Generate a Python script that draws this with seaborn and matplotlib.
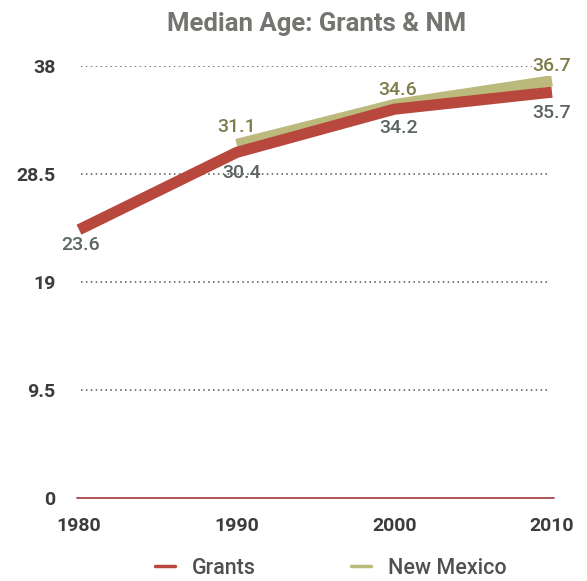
import matplotlib
matplotlib.use("Agg")
import matplotlib.pyplot as plt
import seaborn as sns
import pandas as pd
import numpy as np
from matplotlib.lines import Line2D

years = [1980, 1990, 2000, 2010]
grants = [23.6, 30.4, 34.2, 35.7]
new_mexico = [np.nan, 31.1, 34.6, 36.7]
y_ticks = [0, 9.5, 19, 28.5, 38]
y_tick_labels = ["0", "9.5", "19", "28.5", "38"]
x_tick_labels = ["1980", "1990", "2000", "2010"]
series_names = ["Grants", "New Mexico"]

sns.set_theme(style="white")
plt.rcParams["font.family"] = ["Roboto", "DejaVu Sans"]

df = pd.DataFrame({
    "year": years * 2,
    "age": grants + new_mexico,
    "series": [series_names[0]] * 4 + [series_names[1]] * 4,
})

grants_color = "#b8473d"
nm_color = "#bcb97c"

fig = plt.figure(figsize=(5.87, 5.81), dpi=100)
ax = fig.add_axes([79 / 587, (581 - 498) / 581, 473 / 587, 432 / 581])

sns.lineplot(data=df[df.series == series_names[1]], x="year", y="age", color=nm_color,
             lw=8, ax=ax, legend=False, solid_capstyle="butt", zorder=3)
sns.lineplot(data=df[df.series == series_names[0]], x="year", y="age", color=grants_color,
             lw=8, ax=ax, legend=False, solid_capstyle="butt", zorder=4)
for ln in ax.lines:
    ln.set_clip_on(False)

ax.set_xlim(1980, 2010)
ax.set_ylim(0, 38)
ax.set_yticks(y_ticks)
ax.set_yticklabels(y_tick_labels)
ax.set_xticks(years)
ax.set_xticklabels(x_tick_labels)
ax.tick_params(axis="y", length=0, pad=17, labelsize=14, labelcolor="#3c3c3c")
ax.tick_params(axis="x", length=0, pad=14, labelsize=14, labelcolor="#3c3c3c")
for t in ax.get_xticklabels() + ax.get_yticklabels():
    t.set_fontweight("bold")
ax.set_xlabel("")
ax.set_ylabel("")
for s in ax.spines.values():
    s.set_visible(False)

for yv in y_ticks[1:]:
    ax.axhline(yv, xmin=0.005, xmax=0.995, color="#555555", lw=1.1, ls=(0, (1, 2.2)), zorder=0)
ax.axhline(0, xmin=-0.004, xmax=1.004, color="#a8474a", lw=1.3, clip_on=False, zorder=1)

# value labels
nm_lab_color = "#7d7c48"
gr_lab_color = "#5c6463"
offsets_nm = [None, (0, 17), (3, 15), (0, 15)]
offsets_gr = [(2, -15), (5, -21), (4, -19), (0, -21)]
for i, (x, g, n) in enumerate(zip(years, grants, new_mexico)):
    if not np.isnan(n):
        bbox = dict(facecolor="white", edgecolor="none", pad=0.5) if i == 3 else None
        ax.annotate(f"{n}", (x, n), xytext=offsets_nm[i], textcoords="offset pixels",
                    ha="center", va="center", fontsize=14, color=nm_lab_color,
                    fontweight="medium", annotation_clip=False, bbox=bbox, zorder=6)
    ax.annotate(f"{g}", (x, g), xytext=offsets_gr[i], textcoords="offset pixels",
                ha="center", va="center", fontsize=14, color=gr_lab_color,
                fontweight="medium", annotation_clip=False, zorder=6)

fig.text(317 / 587, 1 - 24 / 581, "Median Age: Grants & NM", ha="center", va="center",
         fontsize=18.5, color="#747470", fontweight="bold")

# legend
handles = [Line2D([], [], color=grants_color, lw=2.5),
           Line2D([], [], color=nm_color, lw=2.5)]
leg = fig.legend(handles, series_names, loc="center",
                 bbox_to_anchor=(331 / 587, 1 - 568 / 581), ncol=2, frameon=False,
                 fontsize=15.5, handlelength=0.93, columnspacing=4.4, handletextpad=0.8)
for t in leg.get_texts():
    t.set_color("#505050")
    t.set_fontweight("medium")

fig.savefig("out.png", dpi=100, facecolor="white")
